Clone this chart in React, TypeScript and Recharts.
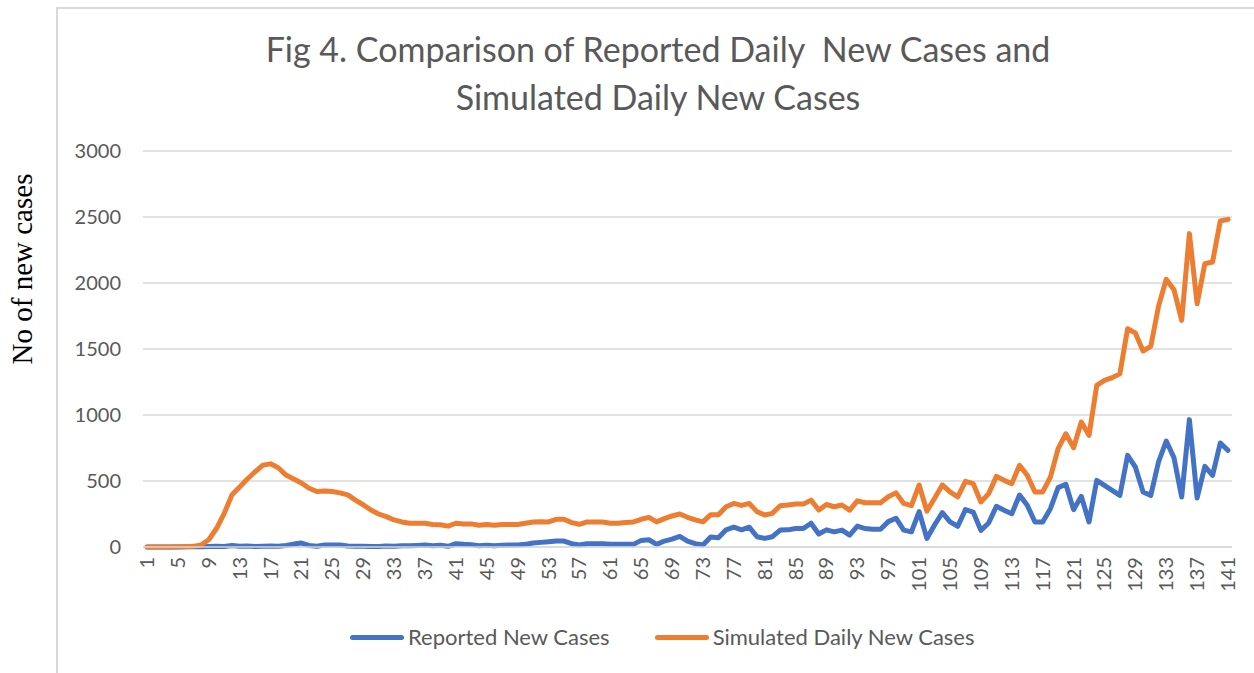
import { LineChart, Line, XAxis, YAxis, CartesianGrid } from "recharts";

// ================= DATA =================
const reported = [
  0, 0, 0, 0, 0, 1, 1, 2, 3, 5,
  4, 12, 5, 8, 4, 6, 8, 6, 12, 22,
  30, 12, 6, 15, 16, 15, 8, 5, 5, 4,
  3, 8, 6, 10, 10, 12, 15, 10, 13, 5,
  25, 20, 18, 10, 14, 10, 14, 15, 15, 20,
  30, 35, 40, 45, 45, 25, 15, 25, 25, 25,
  20, 20, 20, 20, 50, 55, 20, 45, 60, 80,
  45, 25, 15, 75, 70, 130, 150, 130, 150, 78,
  65, 78, 128, 130, 140, 140, 180, 98, 130, 115,
  128, 90, 158, 140, 135, 135, 192, 218, 128, 115,
  268, 65, 167, 260, 190, 157, 283, 265, 126, 182,
  308, 278, 252, 394, 316, 189, 189, 290, 450, 475,
  283, 384, 190, 505, 467, 429, 391, 694, 606, 417,
  391, 644, 803, 677, 379, 965, 371, 611, 543, 788,
  732,
];

const simulated = [
  0, 0, 0, 0, 1, 2, 5, 15, 55, 140,
  255, 395, 455, 515, 570, 620, 630, 600, 545, 515,
  485, 445, 420, 425, 420, 410, 395, 355, 320, 280,
  250, 230, 205, 190, 180, 180, 180, 170, 168, 158,
  180, 175, 175, 165, 170, 165, 170, 170, 170, 180,
  190, 192, 190, 210, 210, 185, 172, 190, 190, 190,
  180, 180, 185, 190, 210, 225, 190, 215, 235, 250,
  225, 205, 190, 245, 245, 305, 330, 315, 330, 268,
  242, 255, 313, 318, 325, 325, 355, 280, 322, 305,
  318, 280, 350, 335, 335, 335, 380, 410, 330, 313,
  470, 272, 370, 470, 417, 380, 497, 480, 341, 404,
  535, 505, 480, 619, 543, 417, 417, 530, 745, 858,
  752, 947, 846, 1225, 1262, 1283, 1313, 1654, 1621, 1485,
  1520, 1823, 2028, 1949, 1717, 2374, 1843, 2146, 2159, 2470,
  2482,
];

const days = reported.map((_, i) => i + 1);
const yTicks = [0, 500, 1000, 1500, 2000, 2500, 3000];

const titleLines = [
  "Fig 4. Comparison of Reported Daily  New Cases and",
  "Simulated Daily New Cases",
];
const yLabel = "No of new cases";
const seriesNames = ["Reported New Cases", "Simulated Daily New Cases"];

// ================= STYLE =================
const BLUE = "#4472C4";
const ORANGE = "#ED7D31";
const GRID = "#d9d9d9";
const TEXT = "#595959";
const W = 1254;
const H = 673;

const data = days.map((d, i) => ({
  day: d,
  reported: reported[i],
  simulated: simulated[i],
}));

// eslint-disable-next-line
function YTick({ x, y, payload }: any) {
  return (
    <text x={x} y={y} dy={7} textAnchor="end" fill={TEXT} fontSize={20} fontFamily="Lato">
      {payload.value}
    </text>
  );
}

// eslint-disable-next-line
function XTick({ x, y, payload }: any) {
  return (
    <text
      x={x}
      y={y}
      dy="0.35em"
      textAnchor="end"
      transform={`rotate(-90, ${x}, ${y})`}
      fill={TEXT}
      fontSize={20}
      fontFamily="Lato"
    >
      {payload.value}
    </text>
  );
}

export default function App() {
  return (
    <div
      style={{
        position: "absolute",
        left: 0,
        top: 0,
        width: W,
        height: H,
        background: "#fff",
        overflow: "hidden",
        fontFamily: "Lato",
      }}
    >
      {/* chart frame */}
      <div
        style={{
          position: "absolute",
          left: 56,
          top: 7,
          width: W,
          height: H,
          borderLeft: `2px solid ${GRID}`,
          borderTop: `2px solid ${GRID}`,
        }}
      />

      <LineChart
        width={W}
        height={H}
        data={data}
        margin={{ top: 151, right: 22, bottom: 86, left: 83 }}
      >
        <CartesianGrid vertical={false} stroke={GRID} strokeWidth={1.5} />
        <XAxis
          dataKey="day"
          interval={3}
          height={40}
          padding={{ left: 4, right: 4 }}
          tickLine={false}
          tickSize={0}
          tickMargin={10}
          axisLine={{ stroke: GRID, strokeWidth: 1.5 }}
          tick={<XTick />}
        />
        <YAxis
          domain={[0, 3000]}
          ticks={yTicks}
          width={60}
          axisLine={false}
          tickLine={false}
          tickSize={0}
          tickMargin={22}
          tick={<YTick />}
        />
        <Line
          dataKey="reported"
          stroke={BLUE}
          strokeWidth={5}
          dot={false}
          type="linear"
          strokeLinejoin="round"
          strokeLinecap="round"
          isAnimationActive={false}
        />
        <Line
          dataKey="simulated"
          stroke={ORANGE}
          strokeWidth={5}
          dot={false}
          type="linear"
          strokeLinejoin="round"
          strokeLinecap="round"
          isAnimationActive={false}
        />
      </LineChart>

      {/* title + axis label */}
      <svg
        width={W}
        height={H}
        style={{ position: "absolute", left: 0, top: 0, pointerEvents: "none" }}
      >
        {titleLines.map((t, i) => (
          <text
            key={i}
            x={658}
            y={62 + i * 48}
            textAnchor="middle"
            fill={TEXT}
            fontSize={34}
            fontFamily="Lato"
            style={{ whiteSpace: "pre" }}
          >
            {t}
          </text>
        ))}
        <text
          x={32}
          y={269}
          textAnchor="middle"
          transform="rotate(-90, 32, 269)"
          fill="#000"
          fontSize={29}
          fontFamily="Liberation Serif"
        >
          {yLabel}
        </text>
      </svg>

      {/* legend */}
      <div
        style={{
          position: "absolute",
          left: 350,
          top: 623,
          display: "flex",
          alignItems: "center",
          fontSize: 22,
          color: TEXT,
          lineHeight: "28px",
        }}
      >
        {seriesNames.map((name, i) => (
          <div key={name} style={{ display: "flex", alignItems: "center", marginRight: 45 }}>
            <span
              style={{
                display: "inline-block",
                width: 54,
                height: 5,
                borderRadius: 3,
                background: i === 0 ? BLUE : ORANGE,
                marginRight: 4,
              }}
            />
            <span>{name}</span>
          </div>
        ))}
      </div>
    </div>
  );
}
